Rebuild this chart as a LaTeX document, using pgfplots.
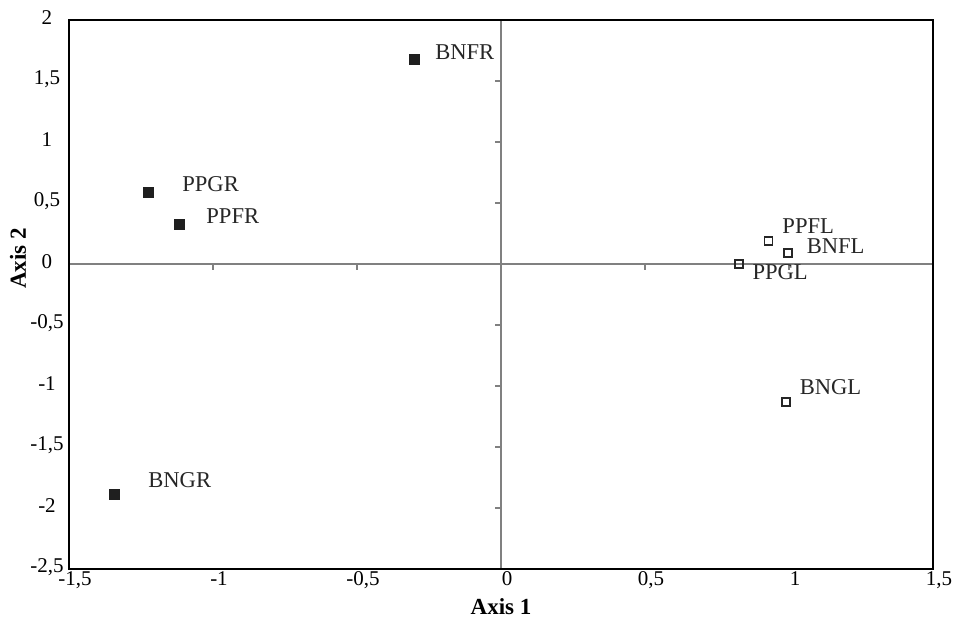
\documentclass[border=0pt]{standalone}
\usepackage{pgfplots}
\pgfplotsset{compat=1.18}
\usepackage{pgfplotstable}
\usepackage{fontspec}
\setmainfont{Liberation Serif}

% scores: x, y, label, label offset (pt)
\pgfplotstableread{
x       y       label  dx    dy
-0.299  1.68    BNFR   10    3.25
-1.226  0.59    PPGR   17    4
-1.118  0.328   PPFR   13.5  4
-1.344  -1.885  BNGR   17    7
}\filled
\pgfplotstableread{
x       y       label  dx    dy
0.93    0.189   PPFL   6.5   7.3
0.997   0.09    BNFL   9     3.6
0.826   0.0     PPGL   6.5   -4.25
0.99    -1.13   BNGL   6.5   7.25
}\open

\begin{document}
\begin{tikzpicture}
\pgfplotsset{
  common/.style={
    width=432pt, height=274.5pt, scale only axis,
    xmin=-1.5, xmax=1.5, ymin=-2.5, ymax=2,
    xtick={-1.5,-1,...,1.5}, ytick={-2.5,-2,...,2},
  },
}
% zero lines with their small ticks
\begin{axis}[common,
    axis lines=middle,
    axis line style={-, gray, line width=1pt},
    xticklabels={}, yticklabels={},
    tick style={gray, line width=0.8pt},
    tick align=outside,
    major tick length=3pt,
  ]
\end{axis}
\begin{axis}[common,
    axis line style={black, line width=0.9pt},
    major tick length=0pt,
    clip=false,
    /pgf/number format/assume math mode=true,
    /pgf/number format/use comma,
    tick label style={font=\fontsize{10.5}{12}\selectfont},
    xticklabel style={anchor=north, inner sep=1pt, xshift=3pt},
    yticklabel style={anchor=center, inner sep=0pt, xshift=-11pt, yshift=1pt},
    xlabel={Axis 1}, ylabel={Axis 2},
    every axis x label/.style={at={(rel axis cs:0.5,0)}, anchor=center, yshift=-19pt,
      font=\fontsize{11.5}{13}\selectfont\bfseries},
    every axis y label/.style={at={(rel axis cs:-0.059,0.566)}, anchor=center, rotate=90,
      font=\fontsize{11.5}{13}\selectfont\bfseries},
    nodes near coords,
    point meta=explicit symbolic,
    visualization depends on={\thisrow{dx} \as \dx},
    visualization depends on={\thisrow{dy} \as \dy},
    nodes near coords style={anchor=west, inner sep=0pt, xshift=\dx pt, yshift=\dy pt,
      font=\fontsize{11.3}{13}\selectfont, text=black!85},
  ]
\addplot[only marks, mark=square*, mark size=2.5pt,
  mark options={fill=black!88, draw=black!88}]
  table[x=x, y=y, meta=label] {\filled};
\addplot[only marks, mark=square, mark size=2pt,
  mark options={draw=black!85, line width=0.65pt, fill=white}]
  table[x=x, y=y, meta=label] {\open};
\end{axis}
\pgfresetboundingbox
\path ([xshift=-34.5pt,yshift=-24.75pt]current axis.south west)
  rectangle ([xshift=14.5pt,yshift=10pt]current axis.north east);
\end{tikzpicture}
\end{document}
